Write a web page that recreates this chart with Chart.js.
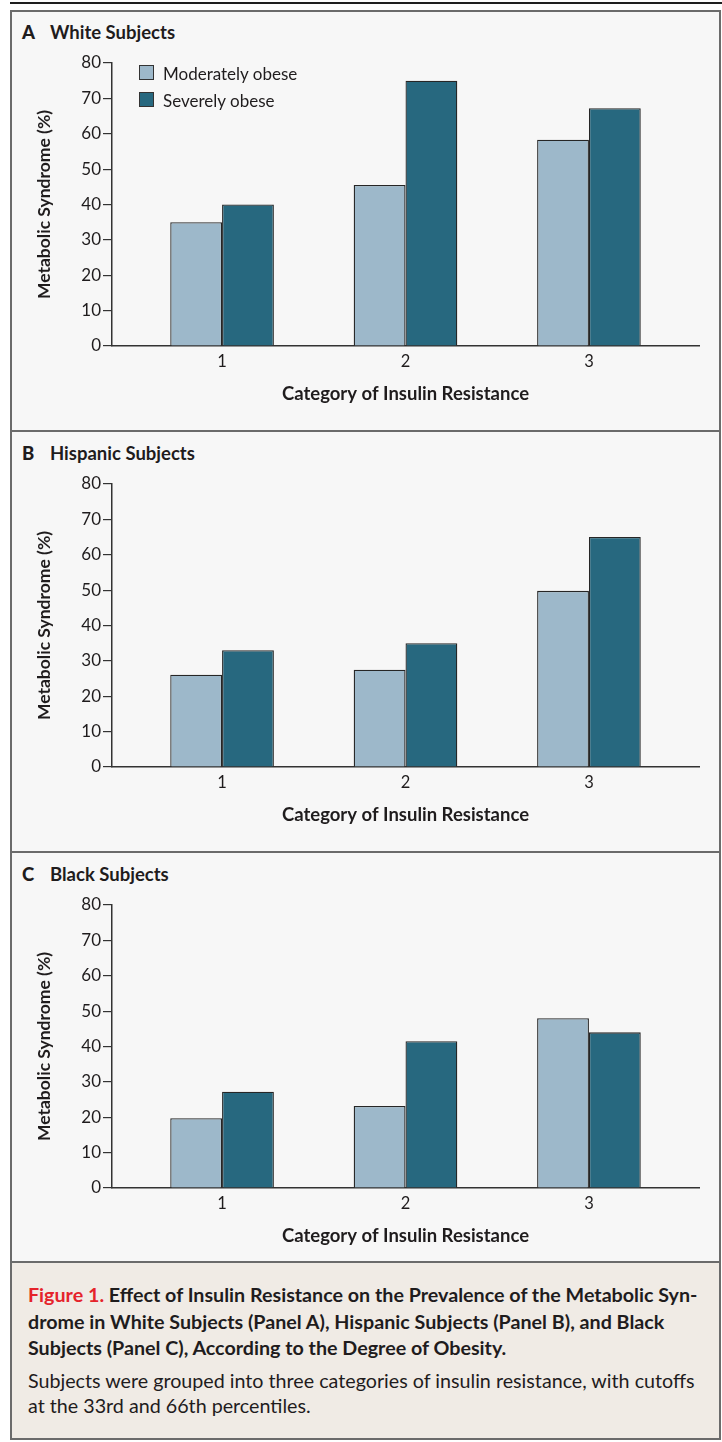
<!DOCTYPE html>
<html>
<head>
<meta charset="utf-8">
<title>Insulin Resistance and Metabolic Syndrome</title>
<script src="https://cdn.jsdelivr.net/npm/chart.js"></script>
<style>
    body { margin: 0; background: #fff; font-family: Lato, sans-serif; color: #1f1c1d; }
    #page { position: relative; width: 722px; height: 1442px; overflow: hidden; }
    .rule { position: absolute; left: 10px; right: 0; top: 2px; height: 2px; background: #1e1e1e; }
    .frame { position: absolute; left: 10px; top: 10px; width: 707px; height: 1426px; border: 2px solid #6b6b6b; background: #f7f7f7; }
    .sep { position: absolute; left: 12px; width: 707px; height: 2px; background: #6b6b6b; }
    .ptitle { position: absolute; left: 22px; height: 22px; line-height: 22px; font-weight: bold; font-size: 18.5px; white-space: nowrap; }
    .ptitle b { display: inline-block; width: 28px; }
    canvas { position: absolute; left: 12px; }
    .legend { position: absolute; left: 139px; top: 65px; font-size: 17px; }
    .legend div { position: relative; height: 27px; line-height: 17px; white-space: nowrap; padding-left: 24px; }
    .legend span { position: absolute; left: 0; top: 0; width: 13px; height: 13px; border: 1.5px solid #333; }
    .caption { position: absolute; left: 12px; top: 1263px; width: 707px; height: 175px; background: #f0ebe5; }
    .caption div { position: absolute; left: 16px; white-space: nowrap; font-size: 19.7px; line-height: 24px; }
    .caption .bold { font-weight: bold; }
    .caption .red { color: #e5232b; }
</style>
</head>
<body>
<div id="page">
    <div class="rule"></div>
    <div class="frame"></div>
    <div class="sep" style="top:430px"></div>
    <div class="sep" style="top:851px"></div>
    <div class="sep" style="top:1261px"></div>

    <div class="ptitle" style="top:21px"><b>A</b>White Subjects</div>
    <div class="ptitle" style="top:442px"><b>B</b>Hispanic Subjects</div>
    <div class="ptitle" style="top:863px"><b>C</b>Black Subjects</div>

    <canvas id="chartA" width="706" height="380" style="top:40px"></canvas>
    <canvas id="chartB" width="706" height="380" style="top:461px"></canvas>
    <canvas id="chartC" width="706" height="380" style="top:882px"></canvas>

    <div class="legend" id="legend"></div>

    <div class="caption">
        <div class="bold" style="top:20px"><span class="red">Figure 1.</span> Effect of Insulin Resistance on the Prevalence of the Metabolic Syn-</div>
        <div class="bold" style="top:47px">drome in White Subjects (Panel A), Hispanic Subjects (Panel B), and Black</div>
        <div class="bold" style="top:73px">Subjects (Panel C), According to the Degree of Obesity.</div>
        <div style="top:106px">Subjects were grouped into three categories of insulin resistance, with cutoffs</div>
        <div style="top:131px">at the 33rd and 66th percentiles.</div>
    </div>
</div>
<script>
    const categories = ['1', '2', '3'];
    const seriesNames = ['Moderately obese', 'Severely obese'];
    const seriesColors = ['#9db8ca', '#27687f'];

    const whiteModerate = [35, 45.5, 58.3];
    const whiteSevere = [40, 75, 67.2];
    const hispanicModerate = [26.1, 27.5, 49.8];
    const hispanicSevere = [33, 35, 65];
    const blackModerate = [19.7, 23.2, 48];
    const blackSevere = [27.2, 41.5, 44];

    const yTicks = [0, 10, 20, 30, 40, 50, 60, 70, 80];
    const yTitle = 'Metabolic Syndrome (%)';
    const xTitle = 'Category of Insulin Resistance';

    const legendBox = document.getElementById('legend');
    seriesNames.forEach(function(name, i) {
        const row = document.createElement('div');
        const sw = document.createElement('span');
        sw.style.background = seriesColors[i];
        row.appendChild(sw);
        row.appendChild(document.createTextNode(name));
        legendBox.appendChild(row);
    });

    function makeChart(id, moderate, severe) {
        const ctx = document.getElementById(id).getContext('2d');
        const series = [moderate, severe];
        new Chart(ctx, {
            type: 'bar',
            data: {
                datasets: series.map(function(vals, i) {
                    return {
                        label: seriesNames[i],
                        data: vals.map(function(v, j) { return { x: Number(categories[j]), y: v }; }),
                        backgroundColor: seriesColors[i],
                        borderColor: '#262626',
                        borderWidth: 1.3,
                        barPercentage: 1,
                        categoryPercentage: 0.565
                    };
                })
            },
            options: {
                responsive: false,
                animation: false,
                devicePixelRatio: 1,
                layout: { padding: { top: 23, right: 19, bottom: 0, left: 0 } },
                plugins: { legend: { display: false }, tooltip: { enabled: false } },
                scales: {
                    x: {
                        type: 'linear',
                        min: 0.4,
                        max: 3.6,
                        offset: false,
                        afterBuildTicks: function(scale) {
                            scale.ticks = categories.map(function(c) { return { value: Number(c) }; });
                        },
                        afterFit: function(scale) { scale.height = 74; },
                        grid: { display: false, drawTicks: false },
                        border: { display: true, color: '#333', width: 1.5 },
                        ticks: { padding: 6, color: '#1f1c1d', font: { family: 'Lato', size: 16.5 } },
                        title: {
                            display: true, text: xTitle, color: '#1f1c1d',
                            font: { family: 'Lato', size: 18.5, weight: 'bold' },
                            padding: { top: 0, bottom: 15 }
                        }
                    },
                    y: {
                        min: 0,
                        max: 80,
                        afterBuildTicks: function(scale) {
                            scale.ticks = yTicks.map(function(v) { return { value: v }; });
                        },
                        afterFit: function(scale) { scale.width = 100; },
                        grid: { drawOnChartArea: false, drawTicks: true, tickLength: 9, color: '#333', lineWidth: 1.2 },
                        border: { display: true, color: '#333', width: 1.5 },
                        ticks: { padding: 2, color: '#1f1c1d', font: { family: 'Lato', size: 17 } },
                        title: {
                            display: true, text: yTitle, color: '#1f1c1d',
                            font: { family: 'Lato', size: 17.5, weight: 'bold' },
                            padding: { top: 22, bottom: 0 }
                        }
                    }
                }
            }
        });
    }

    makeChart('chartA', whiteModerate, whiteSevere);
    makeChart('chartB', hispanicModerate, hispanicSevere);
    makeChart('chartC', blackModerate, blackSevere);
</script>
</body>
</html>
